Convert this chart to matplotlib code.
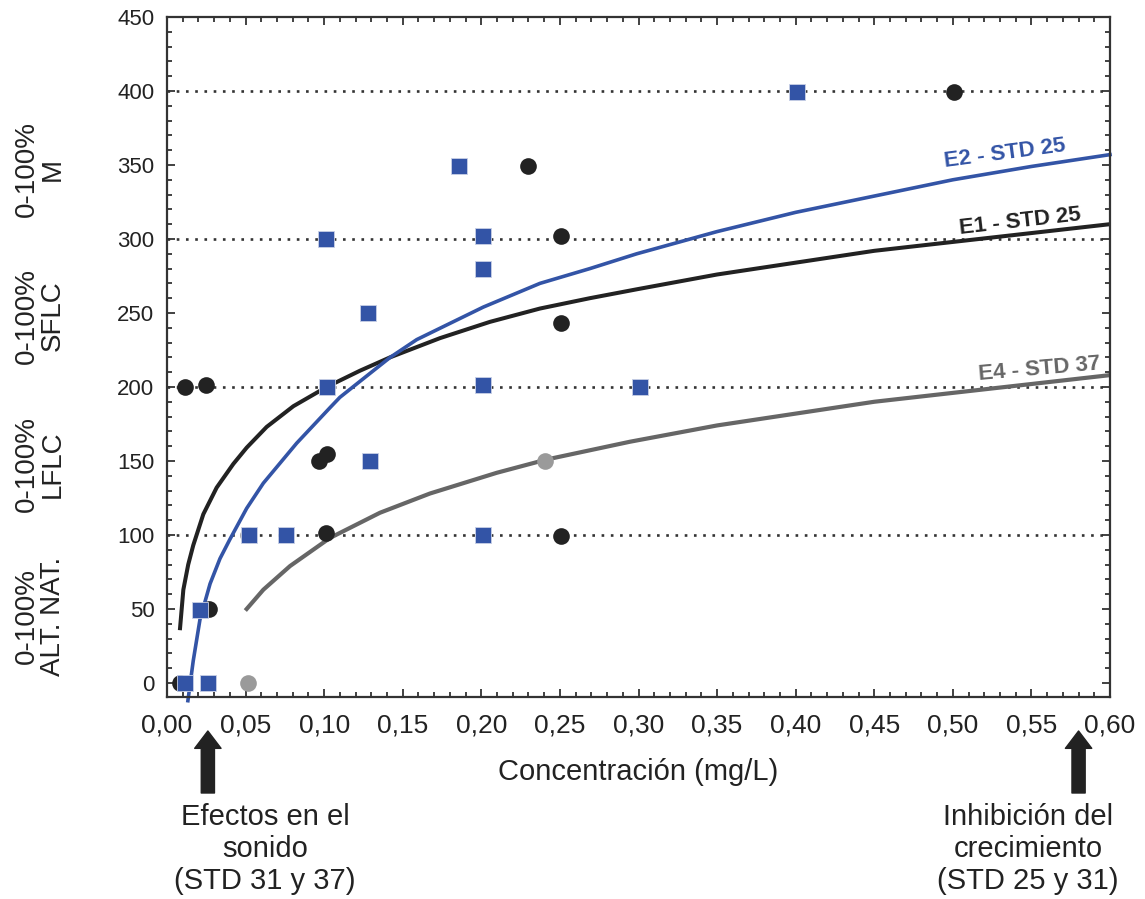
import numpy as np
import matplotlib.pyplot as plt
from matplotlib.ticker import MultipleLocator, FuncFormatter
from matplotlib.transforms import blended_transform_factory

# scatter observations (concentration mg/L, response score)
e1_pts_x = [0.008, 0.0115, 0.025, 0.027, 0.097, 0.102, 0.101, 0.230, 0.251, 0.251, 0.251, 0.501]
e1_pts_y = [0, 200, 201, 50, 150, 155, 101, 349, 302, 243, 99, 399]
e2_pts_x = [0.0115, 0.026, 0.021, 0.052, 0.076, 0.102, 0.101, 0.129, 0.128, 0.186,
            0.201, 0.201, 0.201, 0.201, 0.301, 0.401]
e2_pts_y = [0, 0, 49, 100, 100, 200, 300, 150, 250, 349, 302, 280, 201, 100, 200, 399]
e4_pts_x = [0.0515, 0.0515, 0.2405]
e4_pts_y = [100, 0, 150]

# fitted curves
e1_x = [0.0083, 0.0104, 0.0135, 0.0167, 0.0231, 0.0316, 0.0422, 0.0507, 0.0634, 0.0804, 0.1016,
        0.1228, 0.1419, 0.1737, 0.2055, 0.2373, 0.2691, 0.2989, 0.35, 0.40, 0.45, 0.50, 0.55, 0.60]
e1_y = [37, 63, 80, 93, 114, 132, 148, 159, 173, 187, 200,
        211, 220, 233, 244, 253, 260, 266, 276, 284, 292, 298, 304, 310]
e2_x = [0.0133, 0.0167, 0.021, 0.0274, 0.0337, 0.040, 0.0507, 0.0613, 0.0825, 0.1037,
        0.110, 0.1313, 0.142, 0.1589, 0.2013, 0.2373, 0.2691, 0.2989, 0.35, 0.40, 0.45, 0.50, 0.55, 0.60]
e2_y = [-12, 15, 43, 67, 84, 97, 118, 135, 162, 186,
        193, 211, 220, 232, 254, 270, 280, 290, 305, 318, 329, 340, 349, 357]
e4_x = [0.0507, 0.0613, 0.0783, 0.1037, 0.1355, 0.1673, 0.2098, 0.2416, 0.2946,
        0.35, 0.40, 0.45, 0.50, 0.55, 0.60]
e4_y = [50, 63, 79, 98, 115, 128, 142, 151, 163, 174, 182, 190, 196, 202, 208]

grid_levels = [100, 200, 300, 400]
band_labels = ["0-100%\nM", "0-100%\nSFLC", "0-100%\nLFLC", "0-100%\nALT. NAT."]
band_y = [347, 248, 148, 45]

BLUE = "#3354a6"
BLACK = "#222222"
GREY_PT = "#9a9a9a"
GREY_LN = "#666666"
regular = ["Liberation Sans", "DejaVu Sans"]

fig = plt.figure(figsize=(11.45, 8.99), dpi=100)
ax = fig.add_axes([167 / 1145, 1 - 697 / 899, 943 / 1145, 680 / 899])

for g in grid_levels:
    ax.axhline(g, color="#333333", lw=1.9, ls=(0, (1, 2.5)), zorder=1)

ax.plot(e1_x, e1_y, color=BLACK, lw=2.9, zorder=2, solid_joinstyle="round")
ax.plot(e2_x, e2_y, color=BLUE, lw=2.6, zorder=2, clip_on=False, solid_joinstyle="round")
ax.plot(e4_x, e4_y, color=GREY_LN, lw=3.0, zorder=2, solid_joinstyle="round")

ax.plot(e1_pts_x, e1_pts_y, "o", color=BLACK, ms=12, mew=0, zorder=3, clip_on=False)
ax.plot(e2_pts_x, e2_pts_y, "s", color=BLUE, ms=12, mec="#c8d0e6", mew=0.6, zorder=4, clip_on=False)
ax.plot(e4_pts_x, e4_pts_y, "o", color=GREY_PT, ms=12, mew=0, zorder=3, clip_on=False)

ax.text(0.533, 358, "E2 - STD 25", color=BLUE, fontsize=16, fontweight="bold",
        family=regular, rotation=7.5, ha="center", va="center")
ax.text(0.543, 312, "E1 - STD 25", color=BLACK, fontsize=16, fontweight="bold",
        family=regular, rotation=6.5, ha="center", va="center")
ax.text(0.555, 212, "E4 - STD 37", color=GREY_LN, fontsize=16, fontweight="bold",
        family=regular, rotation=5, ha="center", va="center")

ax.set_xlim(0, 0.60)
ax.set_ylim(-9.5, 450)
ax.xaxis.set_major_locator(MultipleLocator(0.05))
ax.xaxis.set_minor_locator(MultipleLocator(0.01))
ax.yaxis.set_major_locator(MultipleLocator(50))
ax.yaxis.set_minor_locator(MultipleLocator(10))
ax.xaxis.set_major_formatter(FuncFormatter(lambda v, p: f"{v:.2f}".replace(".", ",")))
ax.yaxis.set_major_formatter(FuncFormatter(lambda v, p: f"{v:.0f}"))
ax.tick_params(which="both", direction="in", top=True, right=True, color="#333333", width=1.3)
ax.tick_params(which="major", length=6)
ax.tick_params(which="minor", length=3.5)
ax.tick_params(axis="x", pad=12, labelsize=19, labelcolor=BLACK)
ax.tick_params(axis="y", pad=9, labelsize=16, labelcolor=BLACK)
for lab in ax.get_xticklabels() + ax.get_yticklabels():
    lab.set_family(regular)
for s in ax.spines.values():
    s.set_color("#333333")
    s.set_linewidth(1.6)

ax.set_xlabel("Concentración (mg/L)", fontsize=21, family=regular, color=BLACK)
ax.xaxis.set_label_coords(0.5, -0.09)

trans = blended_transform_factory(ax.transAxes, ax.transData)
for lab, yv in zip(band_labels, band_y):
    ax.text(-0.135, yv, lab, transform=trans, rotation=90, ha="center", va="center",
            multialignment="center", fontsize=20, family=regular, color=BLACK, linespacing=1.0)

arrow = dict(arrowstyle="simple,head_length=1.25,head_width=1.9,tail_width=0.95",
             mutation_scale=10, color=BLACK, shrinkA=0, shrinkB=0)
for xa in [0.026, 0.580]:
    ax.annotate("", xy=(xa, 899 - 731), xycoords=("data", "figure pixels"),
                xytext=(xa, 899 - 793), textcoords=("data", "figure pixels"),
                arrowprops=arrow, annotation_clip=False)

fig.text(265 / 1145, 50 / 899, "Efectos en el\nsonido\n(STD 31 y 37)", ha="center", va="center",
         fontsize=21, family=regular, color=BLACK, linespacing=1.18)
fig.text(1028 / 1145, 50 / 899, "Inhibición del\ncrecimiento\n(STD 25 y 31)", ha="center", va="center",
         fontsize=21, family=regular, color=BLACK, linespacing=1.18)

fig.savefig("out.png", dpi=100, facecolor="white")
